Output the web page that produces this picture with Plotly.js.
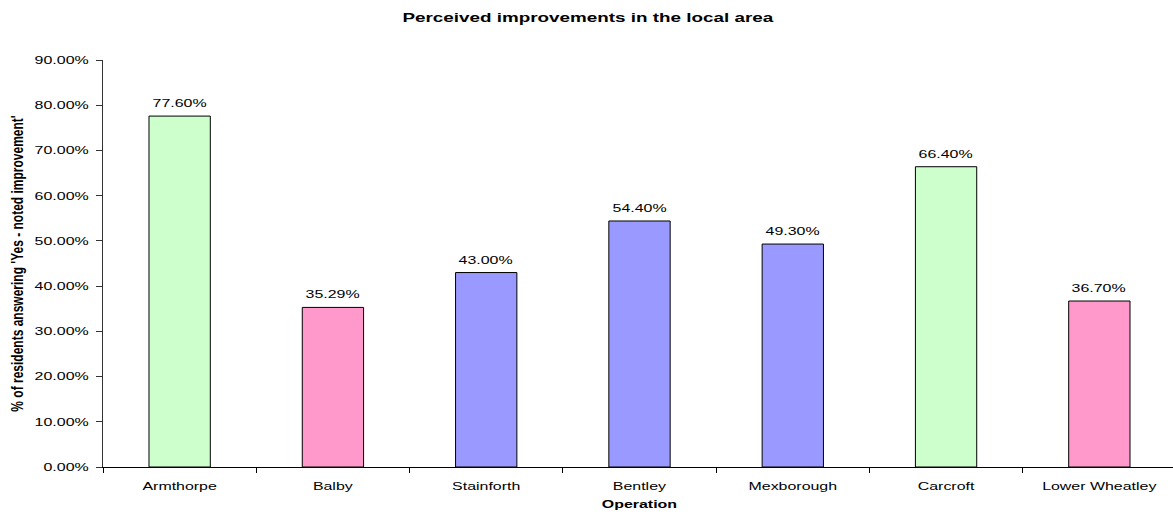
<!DOCTYPE html>
<html>
<head>
<meta charset="utf-8">
<script src="https://cdn.plot.ly/plotly-3.0.1.min.js"></script>
<style>html,body{margin:0;padding:0;background:#fff;overflow:hidden;}#chart{width:1176px;height:515px;}</style>
</head>
<body>
<div id="chart"></div>
<script>
const categories = ["Armthorpe", "Balby", "Stainforth", "Bentley", "Mexborough", "Carcroft", "Lower Wheatley"];
const values = [0.776, 0.3529, 0.43, 0.544, 0.493, 0.664, 0.367];
const barColors = ["#CCFFCC", "#FF99CC", "#9999FF", "#9999FF", "#9999FF", "#CCFFCC", "#FF99CC"];
const yTicks = [0, 0.1, 0.2, 0.3, 0.4, 0.5, 0.6, 0.7, 0.8, 0.9];

const font = "Liberation Sans, Arial, sans-serif";
const STRETCH = 1.45;

const trace = {
  type: "bar",
  x: categories,
  y: values,
  width: 0.4,
  marker: {color: barColors, line: {color: "#000", width: 1}},
  hoverinfo: "skip"
};
const annotations = categories.map((c, i) => ({
  x: c, y: values[i], xref: "x", yref: "y",
  text: (values[i] * 100).toFixed(2) + "%",
  showarrow: false, xanchor: "center", yanchor: "bottom", yshift: 5,
  font: {family: font, size: 11, color: "#000"}
}));
const layout = {
  width: 1176, height: 515,
  margin: {l: 103, r: 0, t: 60, b: 48},
  paper_bgcolor: "#fff", plot_bgcolor: "#fff",
  showlegend: false,
  annotations: annotations,
  title: {text: "<b>Perceived improvements in the local area</b>", font: {family: font, size: 13, color: "#000"}, x: 0.5, xanchor: "center", y: 0.967, yanchor: "middle"},
  xaxis: {
    type: "category",
    showline: true, linecolor: "#000", linewidth: 1,
    ticks: "outside", tickson: "boundaries", ticklen: 5, tickcolor: "#000",
    ticklabelstandoff: 9,
    tickfont: {family: font, size: 11, color: "#000"},
    title: {text: "<b>Operation</b>", font: {family: font, size: 11, color: "#000"}, standoff: 9},
    showgrid: false, zeroline: false, automargin: false
  },
  yaxis: {
    range: [0, 0.9],
    tickvals: yTicks,
    tickformat: ".2%",
    showline: true, linecolor: "#333", linewidth: 1,
    ticks: "outside", ticklen: 6, tickcolor: "#333",
    ticklabelstandoff: 5,
    tickfont: {family: font, size: 11, color: "#000"},
    title: {text: "<b>% of residents answering 'Yes - noted improvement'</b>", font: {family: font, size: 12, color: "#000"}, standoff: 27},
    showgrid: false, zeroline: false, automargin: false
  }
};

function stretchText(el, s, vertical) {
  const bb = el.getBBox();
  const t = el.getAttribute("transform") || "";
  if (vertical) {
    const cy = bb.y + bb.height / 2;
    el.setAttribute("transform", t + " translate(0," + cy + ") scale(1," + s + ") translate(0," + (-cy) + ")");
    return;
  }
  const anchor = el.getAttribute("text-anchor") || getComputedStyle(el).textAnchor || "start";
  let ax = bb.x;
  if (anchor === "middle") ax = bb.x + bb.width / 2;
  else if (anchor === "end") ax = bb.x + bb.width;
  el.setAttribute("transform", t + " translate(" + ax + ",0) scale(" + s + ",1) translate(" + (-ax) + ",0)");
}

Plotly.newPlot("chart", [trace], layout, {displayModeBar: false, staticPlot: true}).then(gd => {
  gd.querySelectorAll(".xtick text, .ytick text, .gtitle, .g-xtitle text, .annotation-text").forEach(el => stretchText(el, STRETCH, false));
  gd.querySelectorAll(".g-ytitle text").forEach(el => stretchText(el, STRETCH, true));
});
</script>
</body>
</html>
